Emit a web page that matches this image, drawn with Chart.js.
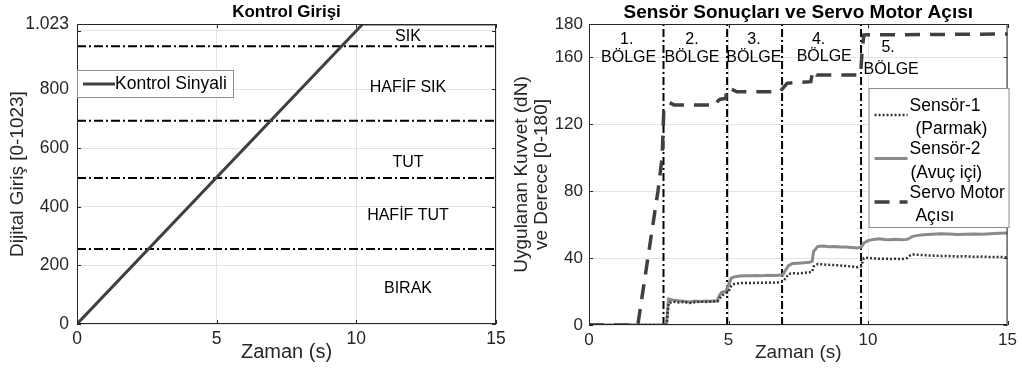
<!DOCTYPE html>
<html>
<head>
<meta charset="utf-8">
<script src="https://cdn.jsdelivr.net/npm/chart.js@4.4.0/dist/chart.umd.min.js"></script>
<style>
  html, body { margin: 0; padding: 0; background: #fff; }
  .panel { position: absolute; top: 0; width: 511px; height: 369px; }
</style>
</head>
<body>
<div class="panel" style="left:0"><canvas id="controlChart" width="511" height="369"></canvas></div>
<div class="panel" style="left:511px"><canvas id="sensorChart" width="511" height="369"></canvas></div>
<script>
// Kontrol Girişi
const controlTime = [0, 10.23, 15];
const controlSignal = [0, 1023, 1023];
const thresholds = [256, 498, 693, 947];
const zoneNames = ['BIRAK', 'HAFİF TUT', 'TUT', 'HAFİF SIK', 'SIK'];
const zoneLabelY = [120, 368, 550, 807, 980];
const zoneLabelX = 11.85;
const controlYTicks = [0, 200, 400, 600, 800, 1000, 1023];
const controlYLabels = ['0', '200', '400', '600', '800', '', '1.023'];
const timeTicks = [0, 5, 10, 15];

// Sensör sonuçları ve servo motor açısı
const sensorTime = [0, 2.7, 2.78, 2.85, 3.0, 3.2, 3.4, 3.6, 3.8, 4.0,
  4.2, 4.4, 4.6, 4.65, 4.75, 4.9, 5.0, 5.1, 5.2, 5.4,
  5.6, 5.8, 6.0, 6.2, 6.4, 6.6, 6.8, 6.95, 7.05, 7.15,
  7.3, 7.5, 7.7, 7.9, 8.0, 8.05, 8.2, 8.4, 8.6, 8.8,
  9.0, 9.2, 9.4, 9.6, 9.75, 9.85, 10.0, 10.2, 10.4, 10.6,
  10.8, 11.0, 11.2, 11.4, 11.5, 11.6, 11.8, 12.0, 12.3, 12.6,
  12.9, 13.2, 13.5, 13.8, 14.1, 14.4, 14.7, 15.0];
const sensor1 = [0, 0, 0.5, 13, 14, 13.5, 13.8, 13.2, 13.6, 13.9,
  13.8, 14.0, 14.1, 15, 17.5, 19, 20, 23.5, 24.5, 25,
  25.2, 25.1, 25.3, 25.2, 25.4, 25.3, 25.5, 26, 28, 30.5,
  31, 30.8, 31.2, 31.5, 32, 35, 36.5, 36.2, 36.0, 35.8,
  35.6, 35.3, 35.0, 34.6, 35, 40, 40.2, 39.8, 39.6, 39.7,
  39.5, 39.6, 39.4, 40, 41.5, 42.2, 42.0, 41.8, 41.5, 41.3,
  41.2, 41.0, 41.1, 40.8, 40.9, 40.6, 40.7, 40.5];
const sensor2 = [0, 0, 0.5, 15.5, 15, 14.5, 14.2, 13.8, 14.3, 14.0,
  14.4, 14.2, 14.5, 17, 19.5, 20, 24, 28, 28.8, 29.3,
  29.5, 29.4, 29.6, 29.5, 29.7, 29.6, 29.8, 30, 33, 35.5,
  36.8, 37, 37.2, 37.5, 38, 44, 47, 47.2, 46.8, 46.9,
  46.6, 46.7, 46.4, 46.0, 46.5, 49, 50.5, 51.2, 51.5, 51.2,
  51.0, 51.3, 51.0, 51.2, 52, 53, 53.6, 54.0, 54.2, 54.5,
  54.4, 54.1, 54.3, 54.4, 54.2, 54.6, 54.8, 55.0];
const servoTime = [0, 1.75, 2.47, 2.62, 2.68, 2.72, 2.9, 2.95, 3.05, 4.55,
  4.62, 4.7, 4.9, 4.95, 5.1, 5.3, 6.85, 6.92, 7.1, 7.4,
  7.95, 8.02, 8.15, 9.7, 9.74, 9.78, 9.85, 15];
const servoAngle = [0, 0, 80, 100, 128, 130, 130.5, 132.5, 131.5, 131.5,
  134, 135, 135.5, 141.5, 141, 139.5, 139.5, 141, 144.5, 145,
  145.5, 152, 149.5, 149.5, 151, 162, 173.5, 174];
const regionBounds = [2.67, 4.95, 6.92, 9.75];
const regionNumbers = ['1.', '2.', '3.', '4.', '5.'];
const regionNumX = [1.35, 3.69, 5.91, 8.23, 10.72];
const regionNumY = [170.5, 170.5, 170.5, 170.5, 165.7];
const regionWordX = [1.42, 3.69, 5.91, 8.43, 10.83];
const regionWordY = [159.7, 159.7, 159.7, 160.7, 153];
const sensorYTicks = [0, 40, 80, 120, 160, 180];
const sensorLegend = [['Sensör-1', ' (Parmak)'], ['Sensör-2', '(Avuç içi)'], ['Servo Motor', ' Açısı']];

const FONT = '"Liberation Sans", Arial, sans-serif';
const pts = (xs, ys) => xs.map((x, i) => ({ x: x, y: ys[i] }));
const font = (size, weight) => ({ family: FONT, size: size, weight: weight || 'normal' });

// kutu, içe dönük tik çizgileri ve başlık
function framePlugin(title, titleSize) {
  return {
    id: 'frame',
    afterDraw(chart) {
      const ctx = chart.ctx, a = chart.chartArea, sx = chart.scales.x, sy = chart.scales.y;
      ctx.save();
      ctx.strokeStyle = '#262626';
      ctx.lineWidth = 1;
      ctx.strokeRect(a.left + 0.5, a.top + 0.5, a.right - a.left - 1, a.bottom - a.top - 1);
      ctx.beginPath();
      sx.ticks.forEach(t => {
        const px = Math.round(sx.getPixelForValue(t.value)) + 0.5;
        ctx.moveTo(px, a.bottom); ctx.lineTo(px, a.bottom - 4);
        ctx.moveTo(px, a.top); ctx.lineTo(px, a.top + 4);
      });
      sy.ticks.forEach(t => {
        const py = Math.round(sy.getPixelForValue(t.value)) + 0.5;
        ctx.moveTo(a.left, py); ctx.lineTo(a.left + 4, py);
        ctx.moveTo(a.right, py); ctx.lineTo(a.right - 4, py);
      });
      ctx.stroke();
      ctx.fillStyle = '#000';
      ctx.font = 'bold ' + titleSize + 'px ' + FONT;
      ctx.textAlign = 'center';
      ctx.textBaseline = 'middle';
      ctx.fillText(title, (a.left + a.right) / 2, 12.5);
      ctx.restore();
    }
  };
}

function drawSample(ctx, ds, x0, x1, y) {
  ctx.save();
  ctx.strokeStyle = ds.borderColor;
  ctx.lineWidth = ds.borderWidth;
  ctx.setLineDash(ds.borderDash || []);
  ctx.beginPath();
  ctx.moveTo(x0, y); ctx.lineTo(x1, y);
  ctx.stroke();
  ctx.restore();
}

const controlChart = new Chart(document.getElementById('controlChart'), {
  type: 'line',
  data: {
    datasets: [
      { label: 'Kontrol Sinyali', data: pts(controlTime, controlSignal), borderColor: '#404040', borderWidth: 3, order: 0 }
    ].concat(thresholds.map(v => ({
      label: 'eşik', data: [{ x: 0, y: v }, { x: 15, y: v }],
      borderColor: '#000', borderWidth: 2, borderDash: [9, 3, 2, 3], order: 1
    })))
  },
  options: {
    responsive: false,
    animation: false,
    layout: { padding: { left: 0, right: 15, top: 24, bottom: 0 } },
    elements: { point: { radius: 0 }, line: { tension: 0 } },
    plugins: { legend: { display: false }, tooltip: { enabled: false } },
    scales: {
      x: {
        type: 'linear', min: 0, max: 15,
        afterBuildTicks: s => { s.ticks = timeTicks.map(v => ({ value: v })); },
        afterFit: s => { s.height = 45; },
        grid: { color: '#e3e3e3', drawTicks: false },
        border: { display: false },
        ticks: { padding: 5, font: font(17.5), color: '#262626' },
        title: { display: true, text: 'Zaman (s)', font: font(20), color: '#262626', padding: { top: 0, bottom: 5 } }
      },
      y: {
        type: 'linear', min: 0, max: 1023,
        afterBuildTicks: s => { s.ticks = controlYTicks.map(v => ({ value: v })); },
        afterFit: s => { s.width = 77; },
        grid: { color: '#e3e3e3', drawTicks: false },
        border: { display: false },
        ticks: { padding: 8, font: font(17.5), color: '#262626', callback: v => controlYLabels[controlYTicks.indexOf(v)] },
        title: { display: true, text: 'Dijital Giriş [0-1023]', font: font(19), color: '#262626', padding: { top: 6, bottom: 0 } }
      }
    }
  },
  plugins: [framePlugin('Kontrol Girişi', 17), {
    id: 'zones',
    afterDraw(chart) {
      const ctx = chart.ctx, sx = chart.scales.x, sy = chart.scales.y, a = chart.chartArea;
      ctx.save();
      ctx.fillStyle = '#000';
      ctx.font = '16px ' + FONT;
      ctx.textAlign = 'center';
      ctx.textBaseline = 'middle';
      zoneNames.forEach((n, i) => ctx.fillText(n, sx.getPixelForValue(zoneLabelX), sy.getPixelForValue(zoneLabelY[i])));
      // gösterge
      const bx = a.left, by = a.top + 46;
      ctx.fillStyle = '#fff';
      ctx.fillRect(bx, by, 156, 27);
      ctx.strokeStyle = '#8c8c8c';
      ctx.lineWidth = 1;
      ctx.strokeRect(bx + 0.5, by + 0.5, 156, 27);
      drawSample(ctx, chart.data.datasets[0], bx + 6, bx + 38, by + 14);
      ctx.fillStyle = '#000';
      ctx.textAlign = 'left';
      ctx.font = '17.5px ' + FONT;
      ctx.fillText(chart.data.datasets[0].label, bx + 38, by + 14);
      ctx.restore();
    }
  }]
});

const sensorChart = new Chart(document.getElementById('sensorChart'), {
  type: 'line',
  data: {
    datasets: [
      { label: 'Sensör-1', data: pts(sensorTime, sensor1), borderColor: '#333', borderWidth: 2.5, borderDash: [2, 2], order: 1 },
      { label: 'Sensör-2', data: pts(sensorTime, sensor2), borderColor: '#8a8a8a', borderWidth: 3, order: 2 },
      { label: 'Servo Motor Açısı', data: pts(servoTime, servoAngle), borderColor: '#404040', borderWidth: 3.5, borderDash: [15, 10], order: 0 }
    ].concat(regionBounds.map(t => ({
      label: 'bölge', data: [{ x: t, y: 0 }, { x: t, y: 180 }],
      borderColor: '#000', borderWidth: 2, borderDash: [8, 3, 2, 3], order: 3
    })))
  },
  options: {
    responsive: false,
    animation: false,
    layout: { padding: { left: 0, right: 12, top: 24, bottom: 0 } },
    elements: { point: { radius: 0 }, line: { tension: 0 } },
    plugins: { legend: { display: false }, tooltip: { enabled: false } },
    scales: {
      x: {
        type: 'linear', min: 0, max: 15,
        afterBuildTicks: s => { s.ticks = timeTicks.map(v => ({ value: v })); },
        afterFit: s => { s.height = 44; },
        grid: { color: '#e3e3e3', drawTicks: false },
        border: { display: false },
        ticks: { padding: 5, font: font(17), color: '#262626' },
        title: { display: true, text: 'Zaman (s)', font: font(19), color: '#262626', padding: { top: 0, bottom: 5 } }
      },
      y: {
        type: 'linear', min: 0, max: 180,
        afterBuildTicks: s => { s.ticks = sensorYTicks.map(v => ({ value: v })); },
        afterFit: s => { s.width = 78; },
        grid: { color: '#e3e3e3', drawTicks: false },
        border: { display: false },
        ticks: { padding: 6, font: font(17), color: '#262626' },
        title: { display: true, text: ['Uygulanan Kuvvet (dN)', 've Derece [0-180]'], font: { family: FONT, size: 19, lineHeight: 1.05 }, color: '#262626', padding: { top: 1, bottom: 0 } }
      }
    }
  },
  plugins: [framePlugin('Sensör Sonuçları ve Servo Motor Açısı', 19), {
    id: 'regions',
    afterDraw(chart) {
      const ctx = chart.ctx, sx = chart.scales.x, sy = chart.scales.y, a = chart.chartArea;
      ctx.save();
      ctx.fillStyle = '#000';
      ctx.font = '16px ' + FONT;
      ctx.textAlign = 'center';
      ctx.textBaseline = 'middle';
      regionNumbers.forEach((n, i) => {
        ctx.fillText(n, sx.getPixelForValue(regionNumX[i]), sy.getPixelForValue(regionNumY[i]));
        ctx.fillText('BÖLGE', sx.getPixelForValue(regionWordX[i]), sy.getPixelForValue(regionWordY[i]));
      });
      // gösterge
      const bx = a.right - 139, by = a.top + 64, bw = 140, bh = 139;
      ctx.fillStyle = '#fff';
      ctx.fillRect(bx, by, bw, bh);
      ctx.strokeStyle = '#8c8c8c';
      ctx.lineWidth = 1;
      ctx.strokeRect(bx + 0.5, by + 0.5, bw, bh);
      ctx.font = '17.5px ' + FONT;
      sensorLegend.forEach((lines, i) => {
        const y = by + 18 + i * 43.5;
        drawSample(ctx, chart.data.datasets[i], bx + 6, bx + 39, y + 9);
        ctx.fillStyle = '#000';
        ctx.textAlign = 'left';
        ctx.fillText(lines[0], bx + 41, y);
        ctx.fillText(lines[1], bx + 42, y + 23.5);
      });
      ctx.restore();
    }
  }]
});
</script>
</body>
</html>
